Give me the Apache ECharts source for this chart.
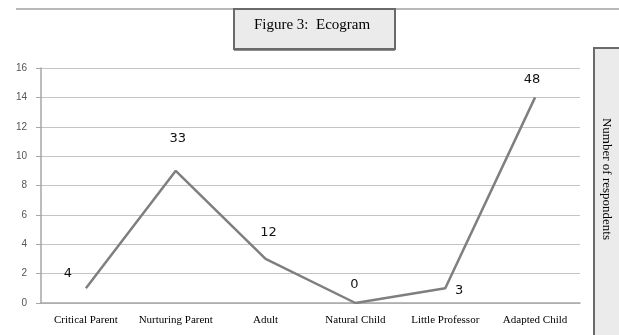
<!DOCTYPE html>
<html>
<head>
<meta charset="utf-8">
<script src="https://cdn.jsdelivr.net/npm/echarts@6/dist/echarts.min.js"></script>
<style>html,body{margin:0;padding:0;background:#fff}#c{width:619px;height:335px}</style>
</head>
<body>
<div id="c"></div>
<script>
var categories = ['Critical Parent', 'Nurturing Parent', 'Adult', 'Natural Child', 'Little Professor', 'Adapted Child'];
var values = [1, 9, 3, 0, 1, 14];
var pointLabels = ['4', '33', '12', '0', '3', '48'];
var yTicks = [0, 2, 4, 6, 8, 10, 12, 14, 16];
var titleText = 'Figure 3:  Ecogram';
var sideText = 'Number of respondents';

var labelOffsets = [[-18, -15], [2, -32], [3, -26], [-1, -18], [14, 2], [-3, -18]];

var chart = echarts.init(document.getElementById('c'));
chart.setOption({
  animation: false,
  backgroundColor: '#fff',
  grid: {left: 41, right: 39, top: 68, bottom: 32},
  xAxis: {
    type: 'category',
    data: categories,
    boundaryGap: true,
    axisLine: {lineStyle: {color: '#a6a6a6', width: 1.5}},
    axisTick: {length: 3, lineStyle: {color: '#a6a6a6'}},
    axisLabel: {color: '#000', fontFamily: 'Liberation Serif', fontSize: 11, margin: 12, interval: 0}
  },
  yAxis: {
    type: 'value',
    min: yTicks[0],
    max: yTicks[yTicks.length - 1],
    interval: 2,
    axisLine: {show: true, lineStyle: {color: '#a6a6a6', width: 1.5}},
    axisTick: {show: true, length: 5, lineStyle: {color: '#a6a6a6'}},
    splitLine: {lineStyle: {color: '#c4c4c4', width: 1.2}},
    axisLabel: {color: '#555', fontFamily: 'Liberation Sans', fontSize: 10, margin: 14}
  },
  series: [{
    type: 'line',
    data: values.map(function (v, i) {
      return {
        value: v,
        label: {
          show: true,
          formatter: pointLabels[i],
          position: 'inside',
          offset: labelOffsets[i]
        }
      };
    }),
    symbol: 'circle',
    symbolSize: 1,
    itemStyle: {color: 'rgba(0,0,0,0)', borderWidth: 0},
    lineStyle: {color: '#7f7f7f', width: 2.5},
    label: {color: '#111', fontSize: 13, fontFamily: 'DejaVu Sans'}
  }],
  graphic: [
    {type: 'line', shape: {x1: 16, y1: 9, x2: 619, y2: 9}, style: {stroke: '#a0a0a0', lineWidth: 1.5}, z: 10},
    {type: 'rect', shape: {x: 234, y: 9, width: 161, height: 40}, style: {fill: '#ebebeb', stroke: '#6a6a6a', lineWidth: 2}, z: 11},
    {type: 'line', shape: {x1: 234, y1: 50, x2: 395, y2: 50}, style: {stroke: '#6a6a6a', lineWidth: 1.5}, z: 11},
    {type: 'text', x: 312, y: 25, style: {text: titleText, fill: '#000', font: '15px "Liberation Serif"', textAlign: 'center', textVerticalAlign: 'middle'}, z: 12},
    {type: 'rect', shape: {x: 594, y: 48, width: 30, height: 292}, style: {fill: '#ebebeb', stroke: '#6a6a6a', lineWidth: 2}, z: 11},
    {type: 'text', x: 606, y: 179, rotation: -Math.PI / 2, style: {text: sideText, fill: '#000', font: '13px "Liberation Serif"', textAlign: 'center', textVerticalAlign: 'middle'}, z: 12}
  ]
});
</script>
</body>
</html>
